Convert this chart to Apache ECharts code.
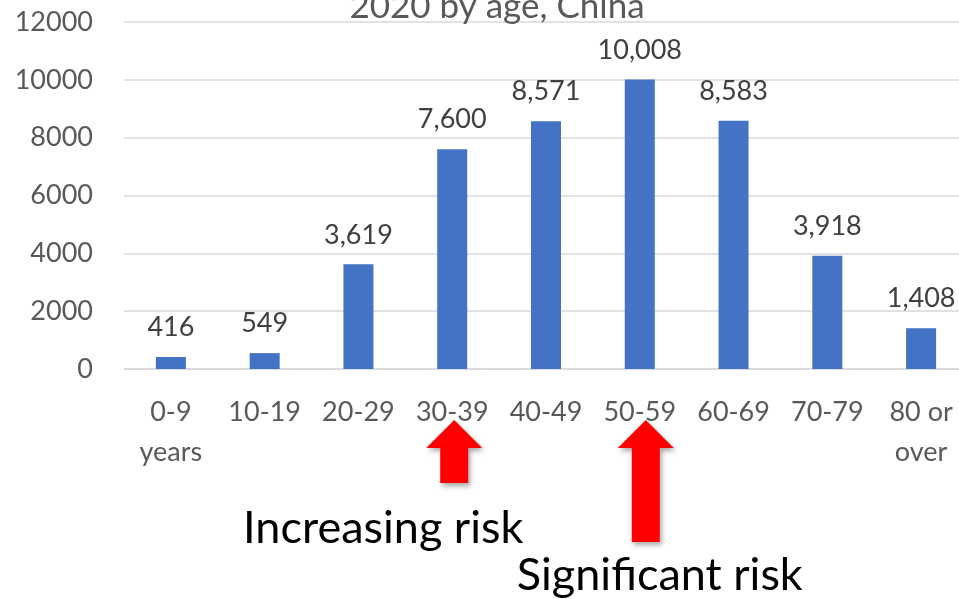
<!DOCTYPE html>
<html>
<head>
<meta charset="utf-8">
<script src="https://cdn.jsdelivr.net/npm/echarts@6/dist/echarts.min.js"></script>
<style>
html,body{margin:0;padding:0;background:#fff;}
#chart{width:959px;height:599px;}
</style>
</head>
<body>
<div id="chart"></div>
<script>
const categories = ['0-9\nyears', '10-19', '20-29', '30-39', '40-49', '50-59', '60-69', '70-79', '80 or\nover'];
const cases = [416, 549, 3619, 7600, 8571, 10008, 8583, 3918, 1408];
const yTicks = { min: 0, max: 12000, interval: 2000 };
const chartTitle = '2020 by age, China';
const notes = [
  { category: '30-39', text: 'Increasing risk', shaft: 35, tipDx: 2, dx: -69, dy: 159 },
  { category: '50-59', text: 'Significant risk', shaft: 94, tipDx: 6, dx: 20, dy: 206 }
];

const FONT = 'Lato, "Open Sans", sans-serif';
const chart = echarts.init(document.getElementById('chart'), null, { renderer: 'canvas' });

chart.setOption({
  animation: false,
  grid: { left: 124, width: 844, top: 22, bottom: 230, outerBoundsMode: 'none', containLabel: false },
  xAxis: {
    type: 'category',
    data: categories,
    axisLine: { show: true, lineStyle: { color: '#d9d9d9', width: 1.5 } },
    axisTick: { show: false },
    axisLabel: { color: '#595959', fontSize: 27, fontFamily: FONT, margin: 23, lineHeight: 40, interval: 0 }
  },
  yAxis: {
    type: 'value',
    min: yTicks.min, max: yTicks.max, interval: yTicks.interval,
    axisLine: { show: false },
    axisTick: { show: false },
    splitLine: { lineStyle: { color: '#d9d9d9', width: 1.5 } },
    axisLabel: { color: '#595959', fontSize: 27, fontFamily: FONT, margin: 31, formatter: v => String(v) }
  },
  series: [{
    type: 'bar',
    data: cases,
    barWidth: 30,
    itemStyle: { color: '#4472C4' },
    label: {
      show: true, position: 'top', distance: 16,
      color: '#404040', fontSize: 27, fontFamily: FONT,
      formatter: p => p.value.toLocaleString('en-US')
    }
  }]
});

// Title, red arrows and captions, placed relative to the axes
const axisY = chart.convertToPixel({ yAxisIndex: 0 }, 0);
const elements = [{
  type: 'text', id: 'title', x: 497, y: 7,
  style: { text: chartTitle, fill: '#595959', fontSize: 35, fontFamily: 'Lato', align: 'center', verticalAlign: 'middle' }
}];
notes.forEach((n, i) => {
  const c = chart.convertToPixel({ xAxisIndex: 0 }, n.category);
  const cx = c + n.tipDx;
  const tipY = axisY + 51;
  const headH = 28, headHalf = 28, shaftHalf = 14;
  const baseY = tipY + headH + n.shaft;
  elements.push({
    type: 'polygon', id: 'arrow' + i,
    shape: { points: [
      [cx, tipY], [cx + headHalf, tipY + headH], [cx + shaftHalf, tipY + headH],
      [cx + shaftHalf, baseY], [cx - shaftHalf, baseY], [cx - shaftHalf, tipY + headH],
      [cx - headHalf, tipY + headH]
    ] },
    style: { fill: '#FF0000', shadowBlur: 5, shadowOffsetX: 2, shadowOffsetY: 3, shadowColor: 'rgba(0,0,0,0.35)' }
  });
  elements.push({
    type: 'text', id: 'note' + i, x: c + n.dx, y: axisY + n.dy,
    style: { text: n.text, fill: '#000', fontSize: 45, fontFamily: 'Lato', align: 'center', verticalAlign: 'middle' }
  });
});
chart.setOption({ graphic: elements });
</script>
</body>
</html>
